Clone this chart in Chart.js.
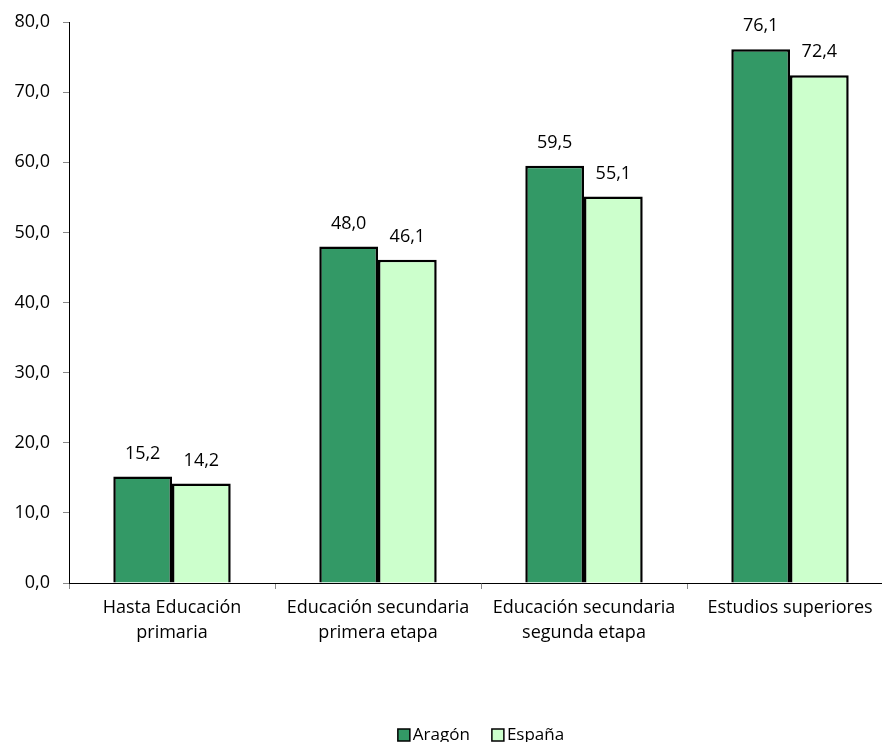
<!DOCTYPE html>
<html>
<head>
<meta charset="utf-8">
<script src="https://cdn.jsdelivr.net/npm/chart.js@4"></script>
<style>
  html, body { margin: 0; padding: 0; background: #fff; overflow: hidden; }
  #wrap { position: relative; width: 894px; height: 742px; }
</style>
</head>
<body>
<div id="wrap"><canvas id="grafico"></canvas></div>
<script>
const ctx = document.getElementById('grafico');

const categorias = [
    ['Hasta Educación', 'primaria'],
    ['Educación secundaria', 'primera etapa'],
    ['Educación secundaria', 'segunda etapa'],
    'Estudios superiores'
];
const aragon = [15.2, 48.0, 59.5, 76.1];
const espana = [14.2, 46.1, 55.1, 72.4];
const ticksY = [0, 10, 20, 30, 40, 50, 60, 70, 80];

const fuente = { family: "'Open Sans', sans-serif", size: 18, lineHeight: 1.4 };
const coma = v => v.toFixed(1).replace('.', ',');

// etiquetas encima de cada barra
const etiquetas = {
    id: 'etiquetas',
    afterDatasetsDraw(chart) {
        const c = chart.ctx;
        c.save();
        c.font = `${fuente.size}px ${fuente.family}`;
        c.fillStyle = '#000';
        c.textAlign = 'center';
        c.textBaseline = 'middle';
        chart.data.datasets.forEach((ds, i) => {
            chart.getDatasetMeta(i).data.forEach((bar, j) => {
                c.fillText(coma(ds.data[j]), bar.x, bar.y - 23);
            });
        });
        c.restore();
    }
};

// leyenda abajo, como en el original (cuadro pegado al texto)
const leyenda = {
    id: 'leyenda',
    afterDraw(chart) {
        const c = chart.ctx;
        const area = chart.chartArea;
        const caja = 12, hueco = 3, sep = 22, y = 735;
        c.save();
        c.font = `17px ${fuente.family}`;
        c.textBaseline = 'middle';
        c.textAlign = 'left';
        const items = chart.data.datasets.map(ds => ({ ds, w: c.measureText(ds.label).width }));
        const total = items.reduce((a, it) => a + caja + hueco + it.w, 0) + sep * (items.length - 1);
        let x = (area.left + area.right) / 2 - total / 2;
        items.forEach(it => {
            c.fillStyle = it.ds.backgroundColor;
            c.fillRect(x, y - caja / 2, caja, caja);
            c.strokeStyle = '#000';
            c.lineWidth = 1.5;
            c.strokeRect(x, y - caja / 2, caja, caja);
            c.fillStyle = '#000';
            c.fillText(it.ds.label, x + caja + hueco, y);
            x += caja + hueco + it.w + sep;
        });
        c.restore();
    }
};

new Chart(ctx, {
    type: 'bar',
    data: {
        labels: categorias,
        datasets: [
            { label: 'Aragón', data: aragon, backgroundColor: '#339966', borderColor: '#000', borderWidth: 2.5 },
            { label: 'España', data: espana, backgroundColor: '#CCFFCC', borderColor: '#000', borderWidth: 2.5 }
        ]
    },
    options: {
        responsive: true,
        maintainAspectRatio: false,
        animation: false,
        datasets: { bar: { categoryPercentage: 0.57, barPercentage: 1.0 } },
        layout: { padding: { top: 22, right: 1, left: 0, bottom: 0 } },
        plugins: {
            tooltip: { enabled: false },
            legend: { display: false }
        },
        scales: {
            x: {
                grid: { display: true, drawOnChartArea: false, tickLength: 6, color: '#888', offset: true },
                border: { color: '#000', width: 1 },
                ticks: { color: '#000', font: fuente, padding: 6, maxRotation: 0 },
                afterFit: s => { s.height = s.chart.height - 583; }
            },
            y: {
                min: 0, max: 80,
                afterBuildTicks: s => { s.ticks = ticksY.map(v => ({ value: v })); },
                grid: { display: true, drawOnChartArea: false, tickLength: 6, color: '#888' },
                border: { color: '#000', width: 1 },
                ticks: { color: '#000', font: { family: fuente.family, size: 18, lineHeight: 1.0 }, padding: 13, callback: v => coma(v) },
                afterFit: s => { s.width = 69; }
            }
        }
    },
    plugins: [etiquetas, leyenda]
});
</script>
</body>
</html>
